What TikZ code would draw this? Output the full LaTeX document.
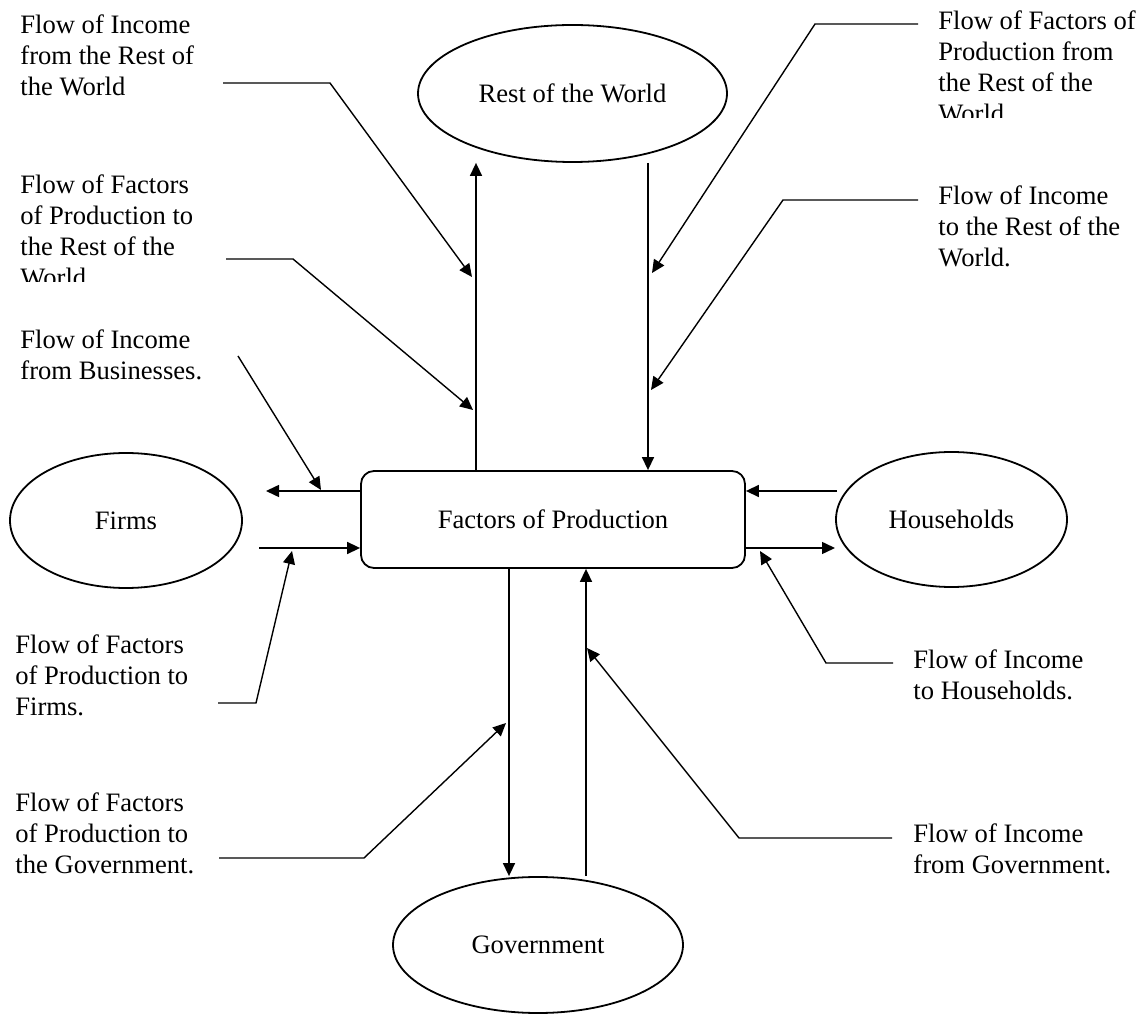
\documentclass[tikz,border=0pt]{standalone}
\usepackage{fontspec}
\setmainfont{Liberation Serif}
\usetikzlibrary{arrows.meta,shapes.geometric}
\begin{document}
\begin{tikzpicture}[x=0.5pt,y=-0.5pt,
  txt/.style={font=\fontsize{13.3}{15.5}\selectfont},
  entity/.style={draw,ellipse,line width=0.9pt,inner sep=0pt,txt},
  hub/.style={draw,rounded corners=6.5pt,line width=0.9pt,minimum width=192pt,minimum height=48.5pt,inner sep=0pt,txt},
  flow/.style={line width=0.75pt,-{Triangle[length=6.5pt,width=6pt]}},
  lead/.style={line width=0.7pt,-{Triangle[length=6.5pt,width=6pt]}},
  note/.style={txt,anchor=north west,align=left,inner sep=0pt}]
\useasboundingbox (0,0) rectangle (1147,1015);

% sectors
\node[entity,minimum width=154.5pt,minimum height=68.5pt] (row) at (572.5,93.5) {Rest of the World};
\node[entity,minimum width=116pt,minimum height=67.5pt] (firms) at (126,520.5) {Firms};
\node[entity,minimum width=115.5pt,minimum height=67.5pt] (hh) at (951.5,519.5) {Households};
\node[entity,minimum width=145pt,minimum height=68pt] (gov) at (538,945) {Government};
\node[hub] (fop) at (553,519.5) {Factors of Production};

% columns and rows used by the flows
\coordinate (xa) at (476,0);
\coordinate (xb) at (648,0);
\coordinate (xc) at (509,0);
\coordinate (xd) at (586,0);
\coordinate (ya) at (0,491);
\coordinate (yb) at (0,548);

% flows between the sectors and the factor market
\draw[flow] (fop.north -| xa) -- (row.south -| xa);
\draw[flow] (row.south -| xb) -- (fop.north -| xb);
\draw[flow] (fop.south -| xc) -- (gov.north -| xc);
\draw[flow] (gov.north -| xd) -- (fop.south -| xd);

\coordinate (fA) at (266,491);
\coordinate (fB) at (259,548);
\coordinate (hA) at (837,491);
\coordinate (hB) at (835,548);
\draw[flow] (fop.west |- ya) -- (fA);
\draw[flow] (fB) -- (fop.west |- yb);
\draw[flow] (hA) -- (fop.east |- ya);
\draw[flow] (fop.east |- yb) -- (hB);

% captions
\node[note] (n1) at (20,14) {Flow of Income\\from the Rest of\\the World};
\begin{scope}
  \clip (0,160) rectangle (330,282);
  \node[note] (n2) at (20,174) {Flow of Factors\\of Production to\\the Rest of the\\World};
\end{scope}
\node[note] (n3) at (20,329) {Flow of Income\\from Businesses.};
\node[note] (n4) at (15,634) {Flow of Factors\\of Production to\\Firms.};
\node[note] (n5) at (15,792) {Flow of Factors\\of Production to\\the Government.};
\begin{scope}
  \clip (925,0) rectangle (1147,118);
  \node[note] (n6) at (938,10) {Flow of Factors of\\Production from\\the Rest of the\\World};
\end{scope}
\node[note] (n7) at (938,185) {Flow of Income\\to the Rest of the\\World.};
\node[note] (n8) at (913,649) {Flow of Income\\to Households.};
\node[note] (n9) at (913,823) {Flow of Income\\from Government.};

% leader lines from the captions to the flows
\coordinate (l1a) at (223,83);  \coordinate (l1b) at (330,83);  \coordinate (l1c) at (472,277);
\coordinate (l2a) at (226,259); \coordinate (l2b) at (293,259); \coordinate (l2c) at (473,410);
\coordinate (l3a) at (238,356); \coordinate (l3c) at (321,490);
\coordinate (l4a) at (218,703); \coordinate (l4b) at (256,703); \coordinate (l4c) at (292,551);
\coordinate (l5a) at (219,858); \coordinate (l5b) at (364,858); \coordinate (l5c) at (506,723);
\coordinate (l6a) at (892,838); \coordinate (l6b) at (739,838); \coordinate (l6c) at (587,648);
\coordinate (l7a) at (893,663); \coordinate (l7b) at (826,663); \coordinate (l7c) at (760,551);
\coordinate (l8a) at (918,200); \coordinate (l8b) at (783,200); \coordinate (l8c) at (651,390);
\coordinate (l9a) at (918,24);  \coordinate (l9b) at (815,24);  \coordinate (l9c) at (652,273);

\draw[lead] (l1a) -- (l1b) -- (l1c);
\draw[lead] (l2a) -- (l2b) -- (l2c);
\draw[lead] (l3a) -- (l3c);
\draw[lead] (l4a) -- (l4b) -- (l4c);
\draw[lead] (l5a) -- (l5b) -- (l5c);
\draw[lead] (l6a) -- (l6b) -- (l6c);
\draw[lead] (l7a) -- (l7b) -- (l7c);
\draw[lead] (l8a) -- (l8b) -- (l8c);
\draw[lead] (l9a) -- (l9b) -- (l9c);
\end{tikzpicture}
\end{document}
